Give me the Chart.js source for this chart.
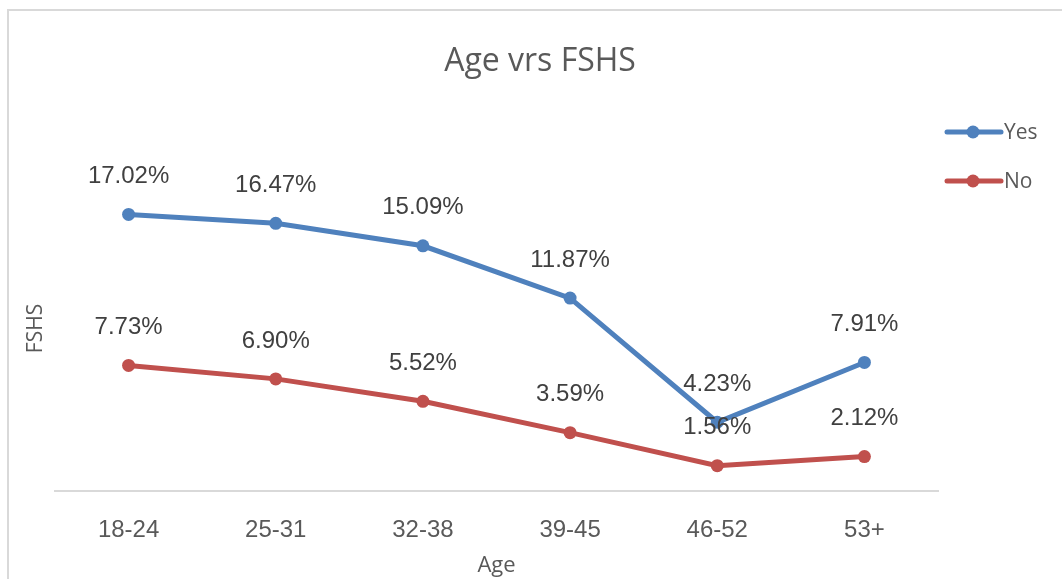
<!DOCTYPE html>
<html>
<head>
<meta charset="utf-8">
<script src="https://cdn.jsdelivr.net/npm/chart.js@4/dist/chart.umd.min.js"></script>
<style>
  html, body { margin: 0; padding: 0; background: #fff; overflow: hidden; }
  #wrap { position: relative; width: 1062px; height: 579px; }
  #frame { position: absolute; left: 7px; top: 9px; width: 1100px; height: 600px; border: 2px solid #d9d9d9; box-sizing: border-box; }
  canvas { position: absolute; left: 0; top: 0; }
</style>
</head>
<body>
<div id="wrap">
  <div id="frame"></div>
  <canvas id="ageChart" width="1062" height="579"></canvas>
</div>
<script>
// Age groups and FSHS percentages
const ageGroups = ['18-24', '25-31', '32-38', '39-45', '46-52', '53+'];
const yesValues = [17.02, 16.47, 15.09, 11.87, 4.23, 7.91];
const noValues = [7.73, 6.90, 5.52, 3.59, 1.56, 2.12];
const seriesNames = ['Yes', 'No'];
const chartTitle = 'Age vrs FSHS';

const blue = '#4f81bd';
const red = '#c0504d';

// value labels above each point
const pointLabels = {
    id: 'pointLabels',
    afterDatasetsDraw(chart) {
        const ctx = chart.ctx;
        ctx.save();
        ctx.font = '24px "Liberation Sans", Arial, sans-serif';
        ctx.fillStyle = '#404040';
        ctx.textAlign = 'center';
        ctx.textBaseline = 'middle';
        chart.data.datasets.forEach((ds, i) => {
            chart.getDatasetMeta(i).data.forEach((pt, j) => {
                ctx.fillText(ds.data[j].toFixed(2) + '%', pt.x, pt.y - 38);
            });
        });
        ctx.restore();
    }
};

// title centred on the whole frame, legend on the right (line with marker)
const titleAndLegend = {
    id: 'titleAndLegend',
    afterDraw(chart) {
        const ctx = chart.ctx;
        ctx.save();
        ctx.fillStyle = '#595959';
        ctx.font = '32px "Open Sans", sans-serif';
        ctx.textAlign = 'center';
        ctx.textBaseline = 'middle';
        ctx.fillText(chartTitle, 540, 62);

        chart.data.datasets.forEach((ds, i) => {
            const y = 132 + i * 49;
            ctx.strokeStyle = ds.borderColor;
            ctx.lineWidth = 5;
            ctx.lineCap = 'round';
            ctx.beginPath();
            ctx.moveTo(947, y);
            ctx.lineTo(1001, y);
            ctx.stroke();
            ctx.fillStyle = ds.borderColor;
            ctx.beginPath();
            ctx.arc(973, y, 6.5, 0, Math.PI * 2);
            ctx.fill();
            ctx.fillStyle = '#595959';
            ctx.font = '21px "Open Sans", sans-serif';
            ctx.textAlign = 'left';
            ctx.fillText(ds.label, 1004, y + 1);
        });
        ctx.restore();
    }
};

new Chart(document.getElementById('ageChart'), {
    type: 'line',
    data: {
        labels: ageGroups,
        datasets: [{
            label: seriesNames[0],
            data: yesValues,
            borderColor: blue,
            backgroundColor: blue,
            borderWidth: 5,
            pointRadius: 6.5,
            pointBackgroundColor: blue,
            pointBorderColor: blue,
            pointBorderWidth: 0,
            tension: 0
        }, {
            label: seriesNames[1],
            data: noValues,
            borderColor: red,
            backgroundColor: red,
            borderWidth: 5,
            pointRadius: 6.5,
            pointBackgroundColor: red,
            pointBorderColor: red,
            pointBorderWidth: 0,
            tension: 0
        }]
    },
    options: {
        responsive: false,
        animation: false,
        layout: {
            padding: { top: 166, right: 124, bottom: 0, left: 8 }
        },
        plugins: {
            legend: { display: false },
            tooltip: { enabled: false },
            title: { display: false }
        },
        scales: {
            x: {
                offset: true,
                grid: { display: false, drawTicks: false },
                border: { display: true, color: '#d9d9d9', width: 2 },
                ticks: {
                    color: '#595959',
                    padding: 25,
                    maxRotation: 0,
                    font: { family: '"Liberation Sans", Arial, sans-serif', size: 24 }
                },
                title: {
                    display: true,
                    text: 'Age',
                    color: '#595959',
                    font: { family: '"Open Sans", sans-serif', size: 22 },
                    padding: { top: -17.2, bottom: 0 }
                }
            },
            y: {
                min: 0,
                max: 20,
                grid: { display: false, drawTicks: false },
                border: { display: false },
                ticks: { display: false },
                title: {
                    display: true,
                    text: 'FSHS',
                    color: '#595959',
                    font: { family: '"Open Sans", sans-serif', size: 21 },
                    padding: { top: 15.4, bottom: 6.4 }
                }
            }
        }
    },
    plugins: [pointLabels, titleAndLegend]
});
</script>
</body>
</html>
